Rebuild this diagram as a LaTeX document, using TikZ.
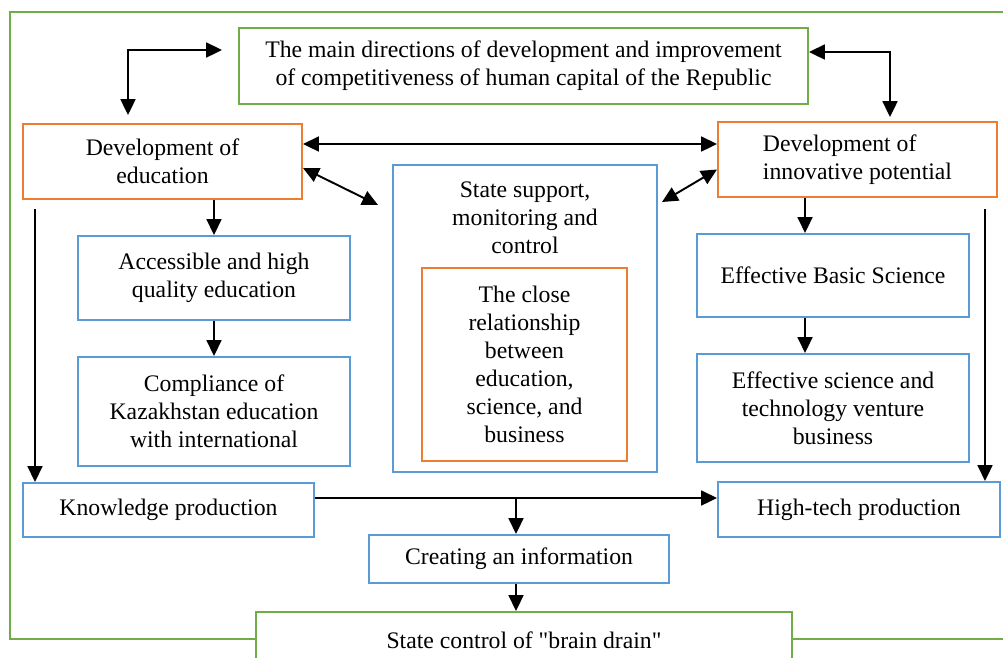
\documentclass[tikz,border=0pt]{standalone}
\usepackage{fontspec}
\setmainfont{Liberation Serif}[Ligatures=TeXOff]
\usepackage{xcolor}
\usepackage{tikz}
\usetikzlibrary{positioning, arrows.meta, calc}

\definecolor{frgreen}{RGB}{112,173,71}
\definecolor{frorange}{RGB}{237,125,49}
\definecolor{frblue}{RGB}{91,155,213}

\begin{document}
\begin{tikzpicture}[
  x=0.02cm, y=-0.02cm,
  box/.style={draw, line width=1.2pt, fill=white, inner sep=2pt,
              align=center, font=\fontsize{13.5}{15.9}\selectfont},
  greenbox/.style={box, draw=frgreen},
  orangebox/.style={box, draw=frorange},
  bluebox/.style={box, draw=frblue},
  txt/.style={align=center, font=\fontsize{13.5}{15.9}\selectfont},
  arr/.style={line width=1.1pt, -{Triangle[length=9pt, width=8.5pt]}},
  dbl/.style={line width=1.1pt, {Triangle[length=9pt, width=8.5pt]}-{Triangle[length=9pt, width=8.5pt]}},
]
  \clip (0,0) rectangle (1003,657);

  % Outer frame
  \draw[frgreen, line width=1.3pt] (10,12) rectangle (1020,639);

  % Top box
  \node[greenbox, minimum width=11.38cm, minimum height=1.52cm] (main) at (523.5,66)
    {The main directions of development and improvement\\
     of competitiveness of human capital of the Republic};

  % Two directions
  \node[orangebox, minimum width=5.58cm, minimum height=1.5cm] (edu) at (162.5,161.5)
    {Development of\\education};
  \node[orangebox, minimum width=5.58cm, minimum height=1.5cm, align=left] (innov) at (857.5,159.5)
    {Development of\\innovative potential};

  % Centre block
  \node[bluebox, minimum width=5.28cm, minimum height=6.14cm] (state) at (525,318.5) {};
  \node[txt] (statetxt) at (525,218) {State support,\\monitoring and\\control};
  \node[orangebox, minimum width=4.10cm, minimum height=3.86cm] (close) at (524.5,364.5)
    {The close\\relationship\\between\\education,\\science, and\\business};

  % Education column
  \node[bluebox, minimum width=5.44cm, minimum height=1.68cm] (access) at (214,278)
    {Accessible and high\\quality education};
  \node[bluebox, minimum width=5.44cm, minimum height=2.18cm] (comply) at (214,411.5)
    {Compliance of\\Kazakhstan education\\with international};

  % Innovation column
  \node[bluebox, minimum width=5.44cm, minimum height=1.66cm] (basic) at (833,275.5)
    {Effective Basic Science};
  \node[bluebox, minimum width=5.44cm, minimum height=2.16cm] (venture) at (833,408)
    {Effective science and\\technology venture\\business};

  % Production row
  \node[bluebox, minimum width=5.82cm, minimum height=1.08cm] (know) at (168.5,510)
    {Knowledge production};
  \node[bluebox, minimum width=5.64cm, minimum height=1.10cm] (hitech) at (859,509.5)
    {High-tech production};
  \node[bluebox, minimum width=6.00cm, minimum height=0.96cm] (info) at (519,559)
    {Creating an information};
  \node[greenbox, minimum width=10.72cm, minimum height=1.12cm] (brain) at (524,640)
    {State control of "brain drain"};

  % Free ends
  \coordinate (tlh) at (222,50);
  \coordinate (tld) at (128,115);
  \coordinate (trd) at (890,117);
  \coordinate (sl) at (378,205);
  \coordinate (sr) at (662,202);
  \coordinate (ls) at (35,209);
  \coordinate (rs) at (985,209);
  \coordinate (kb) at ([yshift=0.24cm]know.east);

  % Connectors
  \draw[dbl] (tlh) -| (tld);
  \draw[dbl] ([yshift=0.28cm]main.east) -| (trd);
  \draw[dbl] ([yshift=0.35cm]edu.east) -- ([yshift=0.35cm]edu.east -| innov.west);
  \draw[dbl] ([yshift=-0.13cm]edu.east) -- (sl);
  \draw[dbl] (sr) -- ([yshift=-0.2cm]innov.west);

  \draw[arr] (access.north |- edu.south) -- (access.north);
  \draw[arr] (access.south) -- (comply.north);
  \draw[arr] ([xshift=-0.56cm]basic.north |- innov.south) -- ([xshift=-0.56cm]basic.north);
  \draw[arr] ([xshift=-0.56cm]basic.south) -- ([xshift=-0.56cm]venture.north);

  \draw[arr] (ls) -- (ls |- know.north);
  \draw[arr] (rs) -- (rs |- hitech.north);
  \draw[arr] (kb) -- (kb -| hitech.west);
  \draw[arr] ([xshift=-0.06cm]info.north |- kb) -- ([xshift=-0.06cm]info.north);
  \draw[arr] ([xshift=-0.06cm]info.south) -- ([xshift=-0.06cm]info.south |- brain.north);

\end{tikzpicture}
\end{document}
